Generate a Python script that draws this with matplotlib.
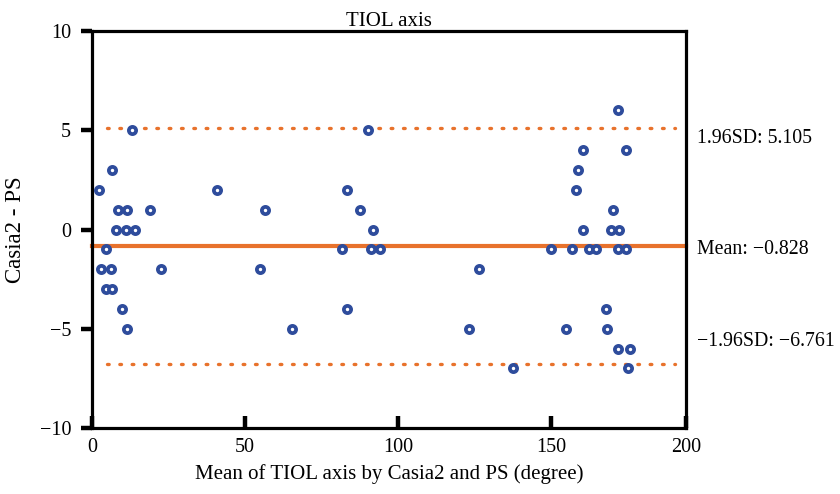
import matplotlib
matplotlib.use("Agg")
import matplotlib.pyplot as plt
import matplotlib.transforms as mtransforms

# mean of the two measurements (degree) and their difference
x_mean = [2.3, 4.6, 3.0, 6.2, 4.6, 6.5, 6.5, 7.9, 8.4, 9.8, 11.0, 11.5, 11.5, 13.2,
          14.1, 18.9, 22.5, 40.7, 55.0, 56.6, 65.4, 81.5, 83.2, 83.2, 87.4, 90.3,
          91.1, 91.8, 94.1, 123.1, 126.5, 137.5, 150.0, 154.7, 156.8, 158.2, 158.6,
          160.2, 160.2, 162.2, 164.5, 167.9, 168.2, 169.6, 170.1, 171.7, 171.8,
          171.8, 172.0, 174.3, 174.5, 175.1, 175.6]
y_diff = [2, -1, -2, -2, -3, -3, 3, 0, 1, -4, 0, 1, -5, 5,
          0, 1, -2, 2, -2, 1, -5, -1, 2, -4, 1, 5,
          -1, 0, -1, -5, -2, -7, -1, -5, -1, 2, 3,
          4, 0, -1, -1, -4, -5, 0, 1, -6, 6,
          -1, 0, -1, 4, -7, -6]

mean_diff = -0.828
upper_loa = 5.105
lower_loa = -6.761

# the source figure puts its "200" label on the right frame edge (~194 on its scale)
x_ticks = [0, 50, 100, 150, 194]
x_tick_labels = ["0", "50", "100", "150", "200"]
y_ticks = [-10, -5, 0, 5, 10]

plt.rcParams['font.family'] = ['Liberation Serif', 'DejaVu Serif']
plt.rcParams['axes.unicode_minus'] = True

orange = '#E8722C'
blue = '#2E4C9C'

fig = plt.figure(figsize=(8.4, 4.94), dpi=100)
ax = fig.add_axes([0.1095, 0.1336, 0.7072, 0.8036])

# limits of agreement (dotted) and mean difference (solid)
ax.axhline(upper_loa, xmin=0.025, xmax=0.981, color=orange, lw=2.4,
           linestyle=(0, (0.5, 3.2)), dash_capstyle='round', zorder=1)
ax.axhline(lower_loa, xmin=0.025, xmax=0.981, color=orange, lw=2.4,
           linestyle=(0, (0.5, 3.2)), dash_capstyle='round', zorder=1)
ax.axhline(mean_diff, color=orange, lw=3.0, zorder=1, clip_on=False)

ax.plot(x_mean, y_diff, linestyle='none', marker='o', markersize=5.2,
        markeredgewidth=2.7, markeredgecolor=blue, markerfacecolor='white', zorder=3)

ax.set_xlim(0, 194)
ax.set_ylim(-10, 10)
ax.set_xticks(x_ticks)
ax.set_xticklabels(x_tick_labels)
ax.set_yticks(y_ticks)

for s in ax.spines.values():
    s.set_linewidth(2.3)
ax.tick_params(axis='y', direction='out', length=8, width=3.2, labelsize=14.5, pad=7)
ax.tick_params(axis='x', direction='in', length=9, width=3.2, labelsize=14.5, pad=7)

ax.set_title('TIOL axis', fontsize=15, pad=3)
ax.set_xlabel('Mean of TIOL axis by Casia2 and PS (degree)', fontsize=15, labelpad=5)
ax.set_ylabel('Casia2 - PS', fontsize=16.5, labelpad=10)

trans = mtransforms.blended_transform_factory(ax.transAxes, ax.transData)
ax.text(1.0185, upper_loa - 0.5, f'1.96SD: {upper_loa:.3f}', transform=trans,
        va='center', ha='left', fontsize=14.3)
ax.text(1.0185, mean_diff - 0.2, f'Mean: \u2212{abs(mean_diff):.3f}', transform=trans,
        va='center', ha='left', fontsize=14.3)
ax.text(1.0185, lower_loa + 1.1, f'\u22121.96SD: \u2212{abs(lower_loa):.3f}',
        transform=trans, va='center', ha='left', fontsize=14.3)

fig.savefig('out.png', dpi=100)
